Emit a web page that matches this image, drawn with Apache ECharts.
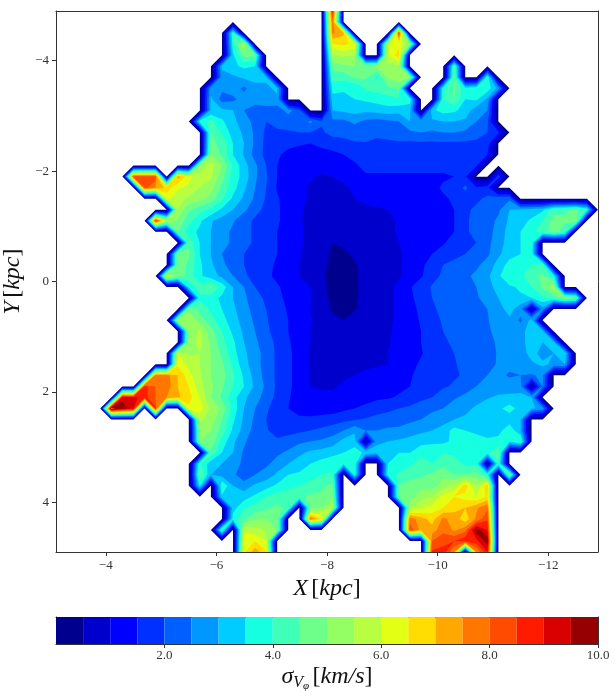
<!DOCTYPE html>
<html>
<head>
<meta charset="utf-8">
<style>
  html, body { margin: 0; padding: 0; background: #fff; }
  #chart { width: 616px; height: 698px; }
</style>
<script src="https://cdn.jsdelivr.net/npm/echarts@6/dist/echarts.min.js"></script>
</head>
<body>
<div id="chart"></div>
<script>
const xNodes = [-3.1, -3.3, -3.5, -3.7, -3.9, -4.1, -4.3, -4.5, -4.7, -4.9, -5.1, -5.3, -5.5, -5.7, -5.9, -6.1, -6.3, -6.5, -6.7, -6.9, -7.1, -7.3, -7.5, -7.7, -7.9, -8.1, -8.3, -8.5, -8.7, -8.9, -9.1, -9.3, -9.5, -9.7, -9.9, -10.1, -10.3, -10.5, -10.7, -10.9, -11.1, -11.3, -11.5, -11.7, -11.9, -12.1, -12.3, -12.5, -12.7, -12.9]
const yNodes = [-4.9, -4.7, -4.5, -4.3, -4.1, -3.9, -3.7, -3.5, -3.3, -3.1, -2.9, -2.7, -2.5, -2.3, -2.1, -1.9, -1.7, -1.5, -1.3, -1.1, -0.9, -0.7, -0.5, -0.3, -0.1, 0.1, 0.3, 0.5, 0.7, 0.9, 1.1, 1.3, 1.5, 1.7, 1.9, 2.1, 2.3, 2.5, 2.7, 2.9, 3.1, 3.3, 3.5, 3.7, 3.9, 4.1, 4.3, 4.5, 4.7, 4.9]

// one entry per y node, each run is [first x node index, values...], everything else is empty bin (0)
const sigmaRows = [
  [[25, 8.8]],
  [[25, 7.9]],
  [[16, 4.0], [25, 7.6, 7.1], [31, 8.4]],
  [[16, 3.8, 5.8], [25, 6.5, 6.6, 6.4], [30, 5.9, 6.3, 5.0]],
  [[16, 3.4, 4.7, 4.6], [25, 5.5, 5.6, 5.5], [30, 6.0, 6.8]],
  [[15, 3.1, 3.4, 3.6, 3.5], [25, 4.7, 4.9, 5.0, 4.9, 5.1, 5.3, 5.4], [36, 4.4]],
  [[15, 2.8, 2.9, 3.1, 3.2, 3.1], [25, 4.2, 4.2, 4.6, 4.6, 3.9, 5.1, 5.3, 5.0], [36, 4.6], [39, 4.0]],
  [[14, 2.8, 2.6, 2.7, 2.4, 2.8, 2.9, 3.1], [25, 3.7, 3.6, 3.5, 4.1, 4.2, 4.4, 4.6], [35, 3.8, 4.6, 3.7, 3.9, 3.8, 2.8]],
  [[14, 3.1, 2.3, 2.4, 2.7, 2.8, 2.8, 2.9], [25, 3.3, 3.3, 3.5, 3.6, 3.7, 3.8, 3.9, 3.8], [35, 4.0, 4.5, 3.5, 3.6, 2.9]],
  [[14, 3.1, 3.1, 3.0, 2.5, 2.2, 2.3, 2.2, 2.7, 2.1], [25, 3.0, 3.1, 3.2, 3.1, 3.2, 3.3, 3.2, 3.1], [34, 3.4, 3.7, 3.6, 3.3, 2.7, 2.5]],
  [[13, 3.8, 4.1, 3.6, 3.1, 2.8, 2.3, 2.0, 2.1, 2.2, 2.2, 2.6, 2.1], [25, 2.4, 2.4, 2.6, 2.4, 2.3, 2.4, 2.5, 3.0, 2.9, 2.9, 3.0, 3.0, 2.9, 2.5, 2.1]],
  [[14, 4.5, 3.9, 3.3, 2.9, 2.4, 1.9, 1.95, 1.95, 2.0, 2.0, 1.9], [25, 2.2, 2.2, 2.2, 2.3, 2.1, 2.2, 2.4, 2.4, 2.5, 2.4, 2.5, 2.5, 2.4, 2.2, 2.0, 1.6]],
  [[14, 4.6, 4.4, 3.5, 3.0, 2.4, 1.85, 1.75, 1.6, 1.55, 1.5, 1.6], [25, 1.7, 1.8, 1.95, 1.95, 1.9, 1.9, 1.9, 1.9, 1.9, 1.9, 1.9, 1.9, 1.9, 1.9, 1.8]],
  [[14, 5.0, 4.4, 3.5, 2.95, 2.3, 1.85, 1.55, 1.4, 1.3, 1.25, 1.35], [25, 1.4, 1.5, 1.6, 1.7, 1.7, 1.7, 1.8, 1.8, 1.8, 1.8, 1.8, 1.8, 1.8, 1.7, 1.5]],
  [[13, 5.3, 5.7, 5.0, 3.9, 3.2, 2.6, 2.0, 1.5, 1.35, 1.2, 1.15, 1.15], [25, 1.25, 1.4, 1.45, 1.6, 1.6, 1.6, 1.6, 1.6, 1.6, 1.6, 1.6, 1.6, 1.6, 1.6]],
  [[7, 8.3, 8.3, 8.3], [11, 7.3, 6.2, 5.6, 5.6, 4.7, 3.8, 3.3, 2.6, 2.05, 1.5, 1.3, 1.15, 1.05, 0.95], [25, 1.0, 1.1, 1.3, 1.45, 1.45, 1.45, 1.45, 1.45, 1.45, 1.45, 1.45, 1.5, 1.6], [40, 1.8]],
  [[8, 8.2, 7.5, 6.8, 6.1, 5.9, 5.5, 5.2, 4.4, 3.7, 3.1, 2.5, 2.0, 1.45, 1.3, 1.15, 0.95, 0.88], [25, 0.9, 0.95, 1.05, 1.3, 1.3, 1.3, 1.3, 1.3, 1.3, 1.4, 1.55, 1.7, 2.1, 1.6, 1.7]],
  [[10, 6.2, 5.7, 5.4, 5.2, 4.8, 4.1, 3.4, 2.9, 2.4, 1.95, 1.55, 1.3, 1.1, 0.95, 0.85], [25, 0.8, 0.9, 1.0, 1.1, 1.15, 1.2, 1.2, 1.2, 1.2, 1.3, 1.45, 1.55, 1.75, 1.9, 2.1, 2.4, 2.4]],
  [[11, 5.5, 4.6, 4.2, 3.9, 3.4, 3.0, 2.6, 2.2, 1.85, 1.55, 1.35, 1.05, 0.9, 0.75], [25, 0.7, 0.75, 0.85, 0.9, 0.95, 1.0, 1.15, 1.25, 1.3, 1.4, 1.45, 1.5, 1.9, 2.1, 2.3, 2.4, 3.0, 3.1, 3.2, 3.4, 4.3, 4.4, 4.6, 3.9]],
  [[9, 8.6, 5.6, 4.9, 4.2, 3.6, 3.05, 2.8, 2.55, 2.2, 1.9, 1.75, 1.55, 1.35, 1.05, 0.85, 0.75], [25, 0.6, 0.65, 0.75, 0.8, 0.85, 0.9, 1.05, 1.2, 1.3, 1.4, 1.45, 1.5, 1.9, 2.2, 2.3, 2.6, 3.1, 3.3, 3.6, 4.0, 4.7, 4.6, 5.1]],
  [[11, 4.6, 3.7, 3.4, 3.0, 2.7, 2.4, 2.2, 1.9, 1.7, 1.5, 1.35, 1.1, 0.85, 0.7], [25, 0.55, 0.6, 0.7, 0.75, 0.8, 0.9, 1.05, 1.15, 1.25, 1.4, 1.45, 1.5, 1.95, 2.1, 2.3, 2.7, 3.2, 3.5, 3.9, 4.2, 4.8, 4.2]],
  [[12, 4.4, 3.5, 3.0, 2.7, 2.4, 2.2, 1.9, 1.7, 1.5, 1.35, 1.1, 0.8, 0.65], [25, 0.5, 0.55, 0.65, 0.7, 0.8, 0.9, 1.0, 1.1, 1.25, 1.4, 1.45, 1.7, 1.9, 2.0, 2.3, 2.9, 3.1, 3.5, 3.9]],
  [[11, 4.9, 4.6, 3.5, 3.0, 2.5, 2.2, 2.0, 1.8, 1.65, 1.5, 1.3, 1.05, 0.8, 0.62], [25, 0.45, 0.45, 0.55, 0.65, 0.75, 0.85, 0.95, 1.1, 1.3, 1.5, 1.7, 1.9, 2.0, 2.1, 2.4, 2.9, 3.3, 3.5, 3.8]],
  [[11, 4.8, 4.4, 3.6, 3.1, 2.6, 2.3, 2.0, 1.8, 1.6, 1.45, 1.25, 1.0, 0.75, 0.6], [25, 0.4, 0.42, 0.47, 0.6, 0.72, 0.85, 0.95, 1.15, 1.4, 1.7, 2.0, 2.1, 2.2, 2.4, 2.7, 3.2, 3.7, 3.6, 4.0, 4.3]],
  [[10, 6.2, 4.9, 4.3, 3.6, 3.2, 2.9, 2.5, 2.1, 1.8, 1.6, 1.4, 1.2, 1.0, 0.75, 0.58], [25, 0.38, 0.4, 0.45, 0.6, 0.72, 0.85, 0.95, 1.15, 1.45, 1.8, 2.1, 2.3, 2.4, 2.6, 2.9, 3.4, 4.0, 3.9, 4.3, 4.6, 3.7]],
  [[12, 3.7, 4.2, 4.6, 3.8, 3.0, 2.5, 2.0, 1.8, 1.55, 1.35, 1.15, 1.0, 0.6], [25, 0.38, 0.4, 0.45, 0.6, 0.72, 0.9, 1.1, 1.45, 1.75, 2.05, 2.2, 2.4, 2.45, 2.5, 2.8, 3.2, 3.4, 3.6, 4.0, 4.6, 5.4]],
  [[13, 3.9, 3.7, 3.4, 3.0, 2.6, 2.2, 1.9, 1.6, 1.4, 1.2, 1.05, 0.62], [25, 0.42, 0.4, 0.45, 0.6, 0.72, 0.9, 1.1, 1.4, 1.7, 2.0, 2.2, 2.3, 2.4, 2.4, 2.8, 3.0, 3.3, 3.4, 3.5, 3.9, 4.2, 5.0, 4.6]],
  [[12, 4.9, 4.3, 3.9, 3.5, 3.1, 2.7, 2.3, 2.0, 1.7, 1.45, 1.2, 1.0, 0.65], [25, 0.47, 0.45, 0.48, 0.6, 0.75, 0.9, 1.1, 1.35, 1.6, 1.9, 2.15, 2.2, 2.3, 2.3, 2.5, 2.8, 3.2, 2.7, 0.4, 2.8]],
  [[11, 5.2, 5.4, 4.8, 4.2, 3.7, 3.2, 2.8, 2.4, 2.05, 1.75, 1.5, 1.25, 1.05, 0.7], [25, 0.55, 0.5, 0.6, 0.7, 0.8, 0.9, 1.1, 1.3, 1.55, 1.85, 2.05, 2.15, 2.25, 2.3, 2.45, 2.8, 2.9, 2.4, 3.2]],
  [[12, 5.0, 5.6, 4.7, 4.0, 3.4, 2.9, 2.5, 2.1, 1.8, 1.5, 1.25, 1.0, 0.85], [25, 0.7, 0.65, 0.7, 0.75, 0.85, 0.95, 1.1, 1.3, 1.5, 1.75, 2.0, 2.1, 2.1, 2.3, 2.4, 2.7, 3.0, 2.8, 3.3, 3.1]],
  [[12, 5.2, 5.7, 4.9, 4.2, 3.6, 3.0, 2.6, 2.2, 1.9, 1.55, 1.3, 1.0, 0.8], [25, 0.75, 0.75, 0.8, 0.85, 0.9, 0.97, 1.1, 1.25, 1.5, 1.75, 1.95, 2.05, 2.15, 2.2, 2.3, 2.6, 2.8, 2.8, 3.3, 3.0, 3.1]],
  [[11, 6.0, 5.4, 5.5, 5.0, 4.4, 3.7, 3.1, 2.7, 2.3, 1.9, 1.6, 1.3, 0.95, 0.8], [25, 0.8, 0.8, 0.85, 0.9, 0.95, 1.0, 1.1, 1.2, 1.45, 1.75, 1.95, 2.0, 2.1, 2.2, 2.3, 2.55, 2.7, 2.75, 3.2, 2.8, 3.0, 3.5]],
  [[11, 6.4, 5.8, 5.5, 5.0, 4.6, 3.9, 3.2, 2.7, 2.3, 1.9, 1.6, 1.3, 0.95, 0.8], [25, 0.85, 0.85, 0.9, 0.95, 0.97, 1.0, 1.1, 1.3, 1.6, 1.85, 1.95, 1.97, 2.1, 2.2, 2.35, 2.55, 2.6, 2.7, 2.9, 3.1, 2.9, 3.0]],
  [[9, 7.8, 7.7, 7.0, 6.2, 5.6, 5.0, 4.7, 4.1, 3.4, 2.8, 2.3, 1.9, 1.6, 1.3, 0.95, 0.85], [25, 0.9, 0.95, 1.0, 1.05, 1.1, 1.15, 1.25, 1.45, 1.65, 1.8, 1.9, 1.95, 2.05, 2.25, 2.5, 2.6, 2.45, 2.5, 2.45, 2.6]],
  [[8, 8.7, 8.0, 7.8, 7.0, 6.5, 5.7, 5.1, 4.6, 4.0, 3.5, 2.9, 2.4, 1.9, 1.6, 1.3, 1.0, 0.98], [25, 0.95, 1.05, 1.2, 1.25, 1.3, 1.3, 1.4, 1.5, 1.55, 1.75, 1.95, 2.05, 2.3, 2.5, 2.6, 2.7, 2.7, 2.7, 0.3, 2.5]],
  [[6, 9.4, 9.2, 8.7, 8.0, 7.5, 7.1, 6.7, 6.0, 5.0, 4.4, 3.7, 3.1, 2.7, 2.3, 1.85, 1.55, 1.25, 1.05, 1.05], [25, 1.1, 1.2, 1.25, 1.35, 1.4, 1.45, 1.55, 1.65, 1.9, 2.0, 2.25, 2.45, 2.6, 2.75, 2.95, 3.1, 3.15, 3.2, 3.0]],
  [[5, 10.4, 9.7, 9.2], [9, 8.6], [12, 6.4, 6.3, 5.4, 4.9, 3.8, 3.0, 2.5, 2.1, 1.7, 1.5, 1.3, 1.15, 1.2], [25, 1.3, 1.4, 1.5, 1.6, 1.8, 1.9, 2.0, 2.1, 2.2, 2.4, 2.5, 2.7, 2.85, 3.1, 3.3, 3.4, 3.7, 3.3, 3.1, 2.8]],
  [[13, 5.6, 5.3, 4.5, 3.6, 2.9, 2.4, 2.0, 1.55, 1.5, 1.6, 1.65, 1.7], [25, 1.7, 1.85, 1.95, 2.05, 2.15, 2.2, 2.3, 2.4, 2.5, 2.7, 2.8, 3.0, 3.1, 3.1, 3.25, 3.2, 3.2, 3.0]],
  [[13, 5.0, 5.0, 4.3, 3.4, 2.8, 2.3, 2.05, 1.8, 1.85, 1.9, 2.0, 2.1], [25, 2.3, 2.5, 2.9, 2.5, 2.5, 2.6, 2.6, 2.75, 2.9, 3.0, 3.2, 3.7, 3.5, 3.3, 3.3, 3.3, 3.9, 3.0]],
  [[13, 5.0, 4.9, 3.8, 3.1, 2.6, 2.1, 2.1, 2.1, 2.2, 2.4, 2.5, 2.6], [25, 2.7, 3.2, 3.3, 0.3, 2.9, 3.0, 3.1, 3.2, 3.3, 3.4, 3.4, 3.6, 3.9, 3.9, 3.6, 3.7, 3.5, 4.2]],
  [[14, 4.4, 3.5, 3.0, 2.4, 2.1, 2.2, 2.4, 2.6, 2.9, 3.1, 3.2], [25, 3.4, 3.5, 3.7, 3.4, 3.2, 3.4, 3.5, 3.5, 3.9, 3.8, 4.0, 3.9, 3.9, 3.9, 3.8, 4.6]],
  [[13, 4.1, 3.2, 3.0, 2.7, 2.4, 2.3, 2.4, 2.7, 3.0, 3.2, 3.5, 3.7], [25, 3.7, 3.7, 3.9], [30, 3.5, 3.7, 3.9, 4.2, 4.0, 4.3, 4.2, 3.9, 3.9, 0.3, 4.0]],
  [[13, 4.6, 3.0, 2.8, 2.6, 2.2, 2.5, 2.7, 3.1, 3.5, 3.6, 3.9, 4.0, 4.1], [27, 3.8], [30, 3.7, 4.1, 4.4, 4.4, 4.6, 4.9, 4.5, 4.6, 4.7, 3.8], [41, 4.9]],
  [[13, 3.6], [15, 4.0, 3.0, 2.7, 3.1, 3.3, 3.6, 3.9, 4.0, 4.1, 4.4, 4.6], [31, 4.5, 4.6, 4.8, 4.8, 5.2, 5.6, 6.8, 5.5, 6.9]],
  [[15, 3.4, 3.0, 3.3, 3.6, 4.0, 4.2, 4.2, 4.4, 4.6, 4.6, 4.9], [31, 4.6, 4.8, 5.3, 5.5, 6.2, 6.5, 6.3, 6.0, 6.6]],
  [[16, 3.3, 3.9, 4.2, 4.4, 4.6, 4.4], [23, 4.7, 5.0, 5.6], [32, 5.4, 5.9, 6.2, 6.5, 6.8, 7.0, 7.4, 7.9]],
  [[16, 3.7, 4.4, 4.9, 5.0, 4.9], [23, 7.8, 6.6], [32, 7.8, 7.2, 6.8, 7.6, 7.3, 6.7, 7.6, 8.4]],
  [[15, 4.3], [17, 5.9, 5.7, 5.5, 5.0], [32, 8.3, 7.3, 7.2, 7.9, 7.4, 7.8, 9.8, 9.0]],
  [[17, 6.3, 6.5, 6.0], [34, 8.0, 8.2, 8.5, 8.9, 8.8, 9.8]],
  [[17, 6.4, 7.3, 6.6], [34, 8.6, 8.8, 7.5], [38, 7.5, 9.0]]
]

const levels = [0.02, 0.5, 1, 1.5, 2, 2.5, 3, 3.5, 4, 4.5, 5, 5.5, 6, 6.5, 7, 7.5, 8, 8.5, 9, 9.5, 10]
const bandColors = ['#00008f', '#0000cd', '#0000ff', '#0030ff', '#0060ff', '#0098ff', '#00ccff', '#16ffe1', '#40ffb7', '#6dff8a', '#94ff63', '#b7ff40', '#e3ff14', '#ffdd00', '#ffa900', '#ff7700', '#ff4b00', '#ff1a00', '#d80000', '#970000']
const xTicks = [-4, -6, -8, -10, -12]
const yTicks = [-4, -2, 0, 2, 4]
const barTicks = [2, 4, 6, 8, 10]

const serif = '"Liberation Serif", "DejaVu Serif", serif'

const grid2d = yNodes.map((y, j) => {
  const row = xNodes.map(() => 0)
  sigmaRows[j].forEach(run => {
    run.slice(1).forEach((v, k) => { row[run[0] + k] = v })
  })
  return row
})

// keep the part of a polygon on one side of a level, linear along the edges
function clipLevel(pts, level, keepAbove) {
  const out = []
  pts.forEach((p, n) => {
    const q = pts[(n + 1) % pts.length]
    const pIn = keepAbove ? p[2] >= level : p[2] <= level
    const qIn = keepAbove ? q[2] >= level : q[2] <= level
    if (pIn) out.push(p)
    if (pIn !== qIn) {
      const t = (level - p[2]) / (q[2] - p[2])
      out.push([p[0] + t * (q[0] - p[0]), p[1] + t * (q[1] - p[1]), level])
    }
  })
  return out
}

// one compound path per level: everything between that level and the top, later bands paint over it
function renderBand(params, api) {
  const b = api.value(2)
  const top = levels[levels.length - 1]
  let d = ''
  for (let j = 0; j < yNodes.length - 1; j++) {
    for (let i = 0; i < xNodes.length - 1; i++) {
      const quad = [
        [xNodes[i], yNodes[j], grid2d[j][i]],
        [xNodes[i + 1], yNodes[j], grid2d[j][i + 1]],
        [xNodes[i + 1], yNodes[j + 1], grid2d[j + 1][i + 1]],
        [xNodes[i], yNodes[j + 1], grid2d[j + 1][i]]
      ]
      let poly = clipLevel(quad, levels[b], true)
      if (poly.length) poly = clipLevel(poly, top, false)
      if (poly.length < 3) continue
      poly.forEach((p, n) => {
        const c = api.coord([p[0], p[1]])
        d += (n ? 'L' : 'M') + c[0].toFixed(2) + ' ' + c[1].toFixed(2)
      })
      d += 'Z'
    }
  }
  return {
    type: 'path',
    shape: { pathData: d },
    style: { fill: bandColors[b] }
  }
}

function renderBarBand(params, api) {
  const b = api.value(2)
  const p0 = api.coord([b === 0 ? 0 : levels[b], 0])
  const p1 = api.coord([levels[b + 1], 1])
  return {
    type: 'rect',
    shape: { x: p0[0], y: p1[1], width: p1[0] - p0[0], height: p0[1] - p1[1] },
    style: { fill: bandColors[b] }
  }
}

const mathRich = {
  i: { fontFamily: serif, fontStyle: 'italic', fontSize: 24, color: '#111' },
  n: { fontFamily: serif, fontSize: 24, color: '#111' },
  s: { fontFamily: serif, fontStyle: 'italic', fontSize: 16, color: '#111', padding: [12, 0, 0, 0] },
  t: { fontFamily: serif, fontStyle: 'italic', fontSize: 11, color: '#111', padding: [20, 0, 0, 0] }
}
const axisLine = { show: true, onZero: false, lineStyle: { color: '#333', width: 1 } }
const tickLabel = formatter => ({
  fontFamily: serif,
  fontSize: 13,
  color: '#333',
  formatter: formatter
})
const minus = v => String(v).replace('-', '\u2212')

const chart = echarts.init(document.getElementById('chart'), null, { renderer: 'canvas' })
chart.setOption({
  animation: false,
  backgroundColor: '#fff',
  grid: [
    { left: 56, top: 11, width: 542, height: 541, show: false, outerBoundsMode: 'none' },
    { left: 56, top: 617, width: 542, height: 27, show: false, outerBoundsMode: 'none' }
  ],
  xAxis: [
    {
      type: 'value', gridIndex: 0, min: -12.9, max: -3.1, inverse: true, position: 'bottom',
      name: '{i|X} {n|[}{i|kpc}{n|]}', nameLocation: 'middle', nameGap: 22,
      nameTextStyle: { rich: mathRich },
      axisLine: axisLine, splitLine: { show: false },
      axisTick: { customValues: xTicks, length: 4, lineStyle: { color: '#333' } },
      axisLabel: Object.assign({ customValues: xTicks, margin: 7 }, tickLabel(minus))
    },
    {
      type: 'value', gridIndex: 0, min: -12.9, max: -3.1, inverse: true, position: 'top',
      axisLine: axisLine, axisTick: { show: false }, axisLabel: { show: false }, splitLine: { show: false }
    },
    {
      type: 'value', gridIndex: 1, min: 0, max: 10, position: 'bottom',
      name: '{i|\u03c3}{s|V}{t|\u03c6} {n|[}{i|km/s}{n|]}', nameLocation: 'middle', nameGap: 17,
      nameTextStyle: { rich: mathRich },
      axisLine: axisLine, splitLine: { show: false },
      axisTick: { customValues: barTicks, length: 4, lineStyle: { color: '#333' } },
      axisLabel: Object.assign({ customValues: barTicks, margin: 5 }, tickLabel(v => v.toFixed(1)))
    },
    {
      type: 'value', gridIndex: 1, min: 0, max: 10, position: 'top',
      axisLine: axisLine, axisTick: { show: false }, axisLabel: { show: false }, splitLine: { show: false }
    }
  ],
  yAxis: [
    {
      type: 'value', gridIndex: 0, min: -4.9, max: 4.9, inverse: true, position: 'left',
      name: '{i|Y} {n|[}{i|kpc}{n|]}', nameLocation: 'middle', nameGap: 24,
      nameTextStyle: { rich: mathRich },
      axisLine: axisLine, splitLine: { show: false },
      axisTick: { customValues: yTicks, length: 4, lineStyle: { color: '#333' } },
      axisLabel: Object.assign({ customValues: yTicks, margin: 7 }, tickLabel(minus))
    },
    {
      type: 'value', gridIndex: 0, min: -4.9, max: 4.9, inverse: true, position: 'right',
      axisLine: axisLine, axisTick: { show: false }, axisLabel: { show: false }, splitLine: { show: false }
    },
    {
      type: 'value', gridIndex: 1, min: 0, max: 1, position: 'left',
      axisLine: axisLine, axisTick: { show: false }, axisLabel: { show: false }, splitLine: { show: false }
    },
    {
      type: 'value', gridIndex: 1, min: 0, max: 1, position: 'right',
      axisLine: axisLine, axisTick: { show: false }, axisLabel: { show: false }, splitLine: { show: false }
    }
  ],
  series: [
    {
      type: 'custom', xAxisIndex: 0, yAxisIndex: 0, silent: true, clip: true, z: 1,
      encode: { x: 0, y: 1 },
      data: bandColors.map((c, b) => [xNodes[0], yNodes[0], b]),
      renderItem: renderBand
    },
    {
      type: 'custom', xAxisIndex: 2, yAxisIndex: 2, silent: true, z: 1,
      encode: { x: 0, y: 1 },
      data: bandColors.map((c, b) => [levels[b], 0, b]),
      renderItem: renderBarBand
    }
  ]
})
</script>
</body>
</html>
